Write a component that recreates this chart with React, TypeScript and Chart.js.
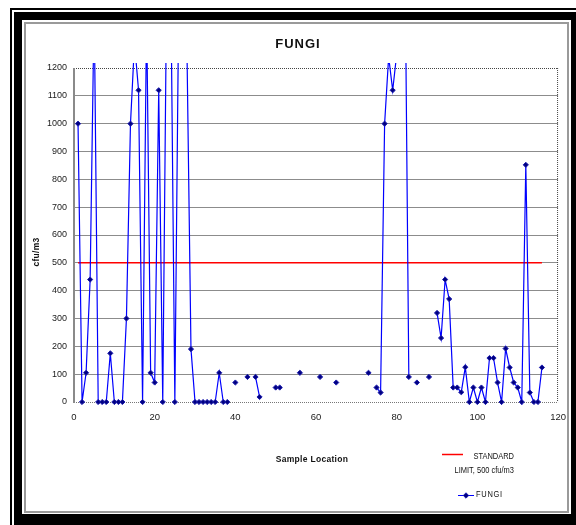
import React, { useEffect, useRef } from "react";
import { Chart, registerables } from "chart.js";

Chart.register(...registerables);

// ---- data ----
const sampleLocation = [
  1, 2, 3, 4, 5, 6, 7, 8, 9, 10, 11, 12, 13, 14, 15, 16, 17, 18, 19, 20,
  21, 22, 23, 24, 25, 26, 27, 28, 29, 30, 31, 32, 33, 34, 35, 36, 37, 38, 39, 40,
  41, 42, 43, 44, 45, 46, 47, 48, 49, 50, 51, 52, 53, 54, 55, 56, 57, 58, 59, 60,
  61, 62, 63, 64, 65, 66, 67, 68, 69, 70, 71, 72, 73, 74, 75, 76, 77, 78, 79, 80,
  81, 82, 83, 84, 85, 86, 87, 88, 89, 90, 91, 92, 93, 94, 95, 96, 97, 98, 99, 100,
  101, 102, 103, 104, 105, 106, 107, 108, 109, 110, 111, 112, 113, 114, 115, 116,
];

const fungiCfu: (number | null)[] = [
  1000, 0, 105, 440, 1430, 0, 0, 0, 175, 0, 0, 0, 300, 1000, 1290, 1120, 0, 1400, 105, 70,
  1120, 0, 1550, 1500, 0, 1500, 1500, 1270, 190, 0, 0, 0, 0, 0, 0, 105, 0, 0, null, 70,
  null, null, 90, null, 90, 18, null, null, null, 52, 52, null, null, null, null, 105, null, null, null, null,
  90, null, null, null, 70, null, null, null, null, null, null, null, 105, null, 52, 34, 1000, 1240, 1120, 1250,
  1600, 1690, 90, null, 70, null, null, 90, null, 320, 230, 440, 370, 52, 52, 35, 125, 0, 52, 0,
  52, 0, 158, 158, 70, 0, 192, 124, 70, 52, 0, 852, 34, 0, 0, 124,
];

const limitLocation = [1, 116];
const limitValue = [500, 500];

const xTickValues = [0, 20, 40, 60, 80, 100, 120];
const yTickValues = [0, 100, 200, 300, 400, 500, 600, 700, 800, 900, 1000, 1100, 1200];

const chartTitle = "FUNGI";
const xTitle = "Sample Location";
const yTitle = "cfu/m3";
const limitLegend = ["STANDARD", "LIMIT, 500 cfu/m3"];
const fungiLegend = "FUNGI";

const FONT = "'Liberation Sans', Arial, sans-serif";

const decorPlugin = {
  id: "decor",
  beforeDatasetsDraw(chart: any) {
    const { ctx, chartArea: a } = chart;
    ctx.save();
    ctx.setLineDash([1, 1]);
    ctx.lineWidth = 1;
    ctx.strokeStyle = "#444";
    ctx.beginPath();
    ctx.moveTo(a.left, a.top + 0.5);
    ctx.lineTo(a.right, a.top + 0.5);
    ctx.stroke();
    ctx.beginPath();
    ctx.moveTo(a.right - 0.5, a.top);
    ctx.lineTo(a.right - 0.5, a.bottom);
    ctx.stroke();
    ctx.strokeStyle = "#777";
    ctx.beginPath();
    ctx.moveTo(a.left, a.bottom + 0.5);
    ctx.lineTo(a.right, a.bottom + 0.5);
    ctx.stroke();
    ctx.setLineDash([]);
    ctx.strokeStyle = "#8a8a8a";
    ctx.lineWidth = 2;
    ctx.beginPath();
    ctx.moveTo(a.left, a.top);
    ctx.lineTo(a.left, a.bottom + 1);
    ctx.stroke();
    ctx.restore();
  },
  afterDraw(chart: any) {
    const { ctx } = chart;
    ctx.save();
    ctx.fillStyle = "#111";
    ctx.textBaseline = "middle";
    ctx.font = `bold 13px ${FONT}`;
    ctx.textAlign = "center";
    (ctx as any).letterSpacing = "1px";
    ctx.fillText(chartTitle, 298, 44);
    ctx.font = `bold 8.5px ${FONT}`;
    (ctx as any).letterSpacing = "0.3px";
    ctx.fillText(xTitle, 312, 460);
    ctx.save();
    ctx.translate(37, 252);
    ctx.rotate(-Math.PI / 2);
    ctx.fillText(yTitle, 0, 0);
    ctx.restore();
    (ctx as any).letterSpacing = "0px";

    ctx.strokeStyle = "#ff0000";
    ctx.lineWidth = 1.5;
    ctx.beginPath();
    ctx.moveTo(442, 454.5);
    ctx.lineTo(463, 454.5);
    ctx.stroke();
    ctx.font = `8.5px ${FONT}`;
    ctx.textAlign = "right";
    [457, 471].forEach((y, i) => {
      ctx.save();
      ctx.translate(514, y);
      ctx.scale(0.88, 1);
      ctx.fillText(limitLegend[i], 0, 0);
      ctx.restore();
    });
    ctx.strokeStyle = "#0000ff";
    ctx.lineWidth = 1;
    ctx.beginPath();
    ctx.moveTo(458, 495.5);
    ctx.lineTo(474, 495.5);
    ctx.stroke();
    ctx.fillStyle = "#000080";
    ctx.strokeStyle = "#1c1cb0";
    ctx.beginPath();
    ctx.moveTo(466, 492.8);
    ctx.lineTo(468.7, 495.5);
    ctx.lineTo(466, 498.2);
    ctx.lineTo(463.3, 495.5);
    ctx.closePath();
    ctx.fill();
    ctx.stroke();
    ctx.fillStyle = "#111";
    ctx.textAlign = "left";
    ctx.save();
    ctx.translate(476, 495);
    ctx.scale(0.88, 1);
    (ctx as any).letterSpacing = "0.8px";
    ctx.fillText(fungiLegend, 0, 0);
    ctx.restore();
    ctx.restore();
  },
};

function FungiChart() {
  const ref = useRef<HTMLCanvasElement | null>(null);
  useEffect(() => {
    if (!ref.current) return;
    const fungiData = sampleLocation.map((x, i) => ({ x, y: fungiCfu[i] }));
    const limitData = limitLocation.map((x, i) => ({ x, y: limitValue[i] }));
    const chart = new Chart(ref.current, {
      type: "line",
      data: {
        datasets: [
          {
            label: "STANDARD LIMIT, 500 cfu/m3",
            data: limitData,
            borderColor: "#ff0000",
            borderWidth: 1.5,
            pointRadius: 0,
            fill: false,
            order: 2,
          },
          {
            label: fungiLegend,
            data: fungiData as any,
            borderColor: "#0000ff",
            borderWidth: 1.2,
            pointStyle: "rectRot",
            pointRadius: 2.6,
            pointBorderWidth: 1,
            pointBackgroundColor: "#000080",
            pointBorderColor: "#1c1cb0",
            spanGaps: false,
            fill: false,
            clip: { left: 2, top: 5, right: 2, bottom: 3 } as any,
            order: 1,
          },
        ],
      },
      options: {
        responsive: false,
        animation: false,
        layout: { padding: { left: 0, top: 68, right: 17, bottom: 0 } },
        plugins: {
          legend: { display: false },
          title: { display: false },
          tooltip: { enabled: false },
        },
        scales: {
          x: {
            type: "linear",
            min: 0,
            max: 120,
            afterBuildTicks: (s: any) => {
              s.ticks = xTickValues.map((v) => ({ value: v }));
            },
            afterFit: (s: any) => {
              s.height = 123;
            },
            grid: { display: false, drawTicks: false },
            border: { display: false },
            ticks: {
              padding: 10,
              maxRotation: 0,
              color: "#1a1a1a",
              font: { family: FONT, size: 9.5 },
              callback: (v: any) => String(v),
            },
          },
          y: {
            min: 0,
            max: 1200,
            afterBuildTicks: (s: any) => {
              s.ticks = yTickValues.map((v) => ({ value: v }));
            },
            afterFit: (s: any) => {
              s.width = 74;
            },
            grid: {
              drawTicks: false,
              color: (c: any) =>
                c.tick && (c.tick.value === 0 || c.tick.value === 1200)
                  ? "rgba(0,0,0,0)"
                  : "#8c8c8c",
              lineWidth: 1,
            },
            border: { display: false },
            ticks: {
              padding: 7,
              color: "#1a1a1a",
              font: { family: FONT, size: 9 },
              callback: (v: any) => String(v),
            },
          },
        },
      },
      plugins: [decorPlugin],
    });
    return () => chart.destroy();
  }, []);
  return (
    <canvas
      ref={ref}
      width={576}
      height={525}
      style={{ position: "absolute", left: 0, top: 0, width: 576, height: 525 }}
    />
  );
}

export default function App() {
  return (
    <div
      style={{
        position: "fixed",
        left: 0,
        top: 0,
        width: 576,
        height: 525,
        overflow: "hidden",
        background: "#ffffff",
      }}
    >
      <div
        style={{
          position: "absolute",
          left: 10,
          top: 8,
          width: 600,
          height: 600,
          border: "2px solid #000",
          boxSizing: "border-box",
        }}
      />
      <div
        style={{
          position: "absolute",
          left: 14,
          top: 12,
          width: 571 - 14 + 10,
          height: 514 - 12 + 14,
          borderStyle: "solid",
          borderColor: "#000",
          borderWidth: "8px 10px 14px 8px",
          boxSizing: "border-box",
        }}
      />
      <div
        style={{
          position: "absolute",
          left: 24,
          top: 22,
          width: 569 - 24,
          height: 513 - 22,
          border: "2px solid #9a9a9a",
          boxSizing: "border-box",
          background: "#fff",
        }}
      />
      <FungiChart />
    </div>
  );
}
